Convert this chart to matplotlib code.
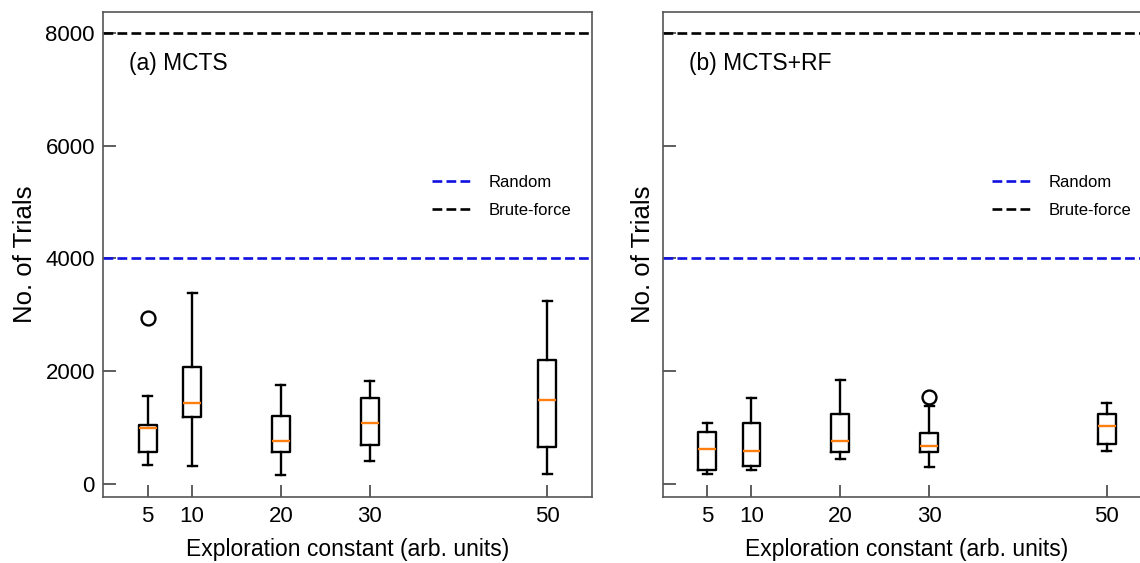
import matplotlib
matplotlib.use("Agg")
import matplotlib.pyplot as plt

plt.rcParams['font.family'] = ['Liberation Sans', 'DejaVu Sans']

# exploration constants (box positions)
positions = [5, 10, 20, 30, 50]

# (a) MCTS box statistics
mcts_whislo = [326, 309, 160, 408, 167]
mcts_q1 = [563, 1178, 563, 687, 646]
mcts_med = [989, 1438, 752, 1083, 1480]
mcts_q3 = [1036, 2071, 1196, 1527, 2201]
mcts_whishi = [1551, 3385, 1757, 1828, 3248]
mcts_fliers = [[2936], [], [], [], []]

# (b) MCTS+RF box statistics
rf_whislo = [172, 243, 444, 296, 575]
rf_q1 = [243, 320, 568, 568, 699]
rf_med = [621, 580, 763, 675, 1019]
rf_q3 = [912, 1077, 1243, 900, 1237]
rf_whishi = [1077, 1521, 1841, 1379, 1432]
rf_fliers = [[], [], [], [1533], []]

random_level = 4000
brute_level = 8000

xticks = [5, 10, 20, 30, 50]
yticks = [0, 2000, 4000, 6000, 8000]


def make_stats(lo, q1, med, q3, hi, fl):
    return [dict(whislo=a, q1=b, med=c, q3=d, whishi=e, fliers=f)
            for a, b, c, d, e, f in zip(lo, q1, med, q3, hi, fl)]


fig = plt.figure(figsize=(11.4, 5.63), dpi=100)
ax1 = fig.add_axes([0.0906, 0.1178, 0.4284, 0.8614])
ax2 = fig.add_axes([0.5813, 0.1178, 0.4284, 0.8614])

panels = [
    (ax1, make_stats(mcts_whislo, mcts_q1, mcts_med, mcts_q3, mcts_whishi, mcts_fliers), '(a) MCTS', True, -0.135),
    (ax2, make_stats(rf_whislo, rf_q1, rf_med, rf_q3, rf_whishi, rf_fliers), '(b) MCTS+RF', False, -0.016),
]

for ax, stats, title, show_ylabels, ylab_x in panels:
    ax.bxp(stats, positions=positions, widths=2.0, manage_ticks=False,
           boxprops=dict(color='black', linewidth=1.7),
           whiskerprops=dict(color='black', linewidth=1.7),
           capprops=dict(color='black', linewidth=1.7),
           medianprops=dict(color='#ff7f0e', linewidth=1.7),
           flierprops=dict(marker='o', markerfacecolor='none',
                           markeredgecolor='black', markersize=10,
                           markeredgewidth=1.7))
    ax.axhline(random_level, color='#1010e0', ls='--', lw=1.9, label='Random')
    ax.axhline(brute_level, color='black', ls='--', lw=1.9, label='Brute-force')
    ax.set_xlim(0, 55)
    ax.set_ylim(-230, 8380)
    ax.set_xticks(xticks)
    ax.set_yticks(yticks)
    ax.tick_params(direction='in', length=9, width=1.1, color='#333333',
                   labelsize=16)
    ax.tick_params(axis='x', pad=6.5)
    ax.tick_params(axis='y', pad=6)
    if not show_ylabels:
        ax.set_yticklabels([])
    for sp in ax.spines.values():
        sp.set_color('#555555')
        sp.set_linewidth(1.2)
    ax.set_xlabel('Exploration constant (arb. units)', fontsize=16.5)
    ax.xaxis.set_label_coords(0.5, -0.086)
    ax.set_ylabel('No. of Trials', fontsize=18.5)
    ax.yaxis.set_label_coords(ylab_x, 0.5)
    ax.text(0.053, 0.894, title, transform=ax.transAxes, fontsize=16.5,
            va='center', ha='left')
    ax.legend(loc='upper right', bbox_to_anchor=(0.99, 0.695), frameon=False,
              fontsize=12, handlelength=2.4, handletextpad=1.0,
              labelspacing=0.8)

fig.savefig('out.png', dpi=100)
